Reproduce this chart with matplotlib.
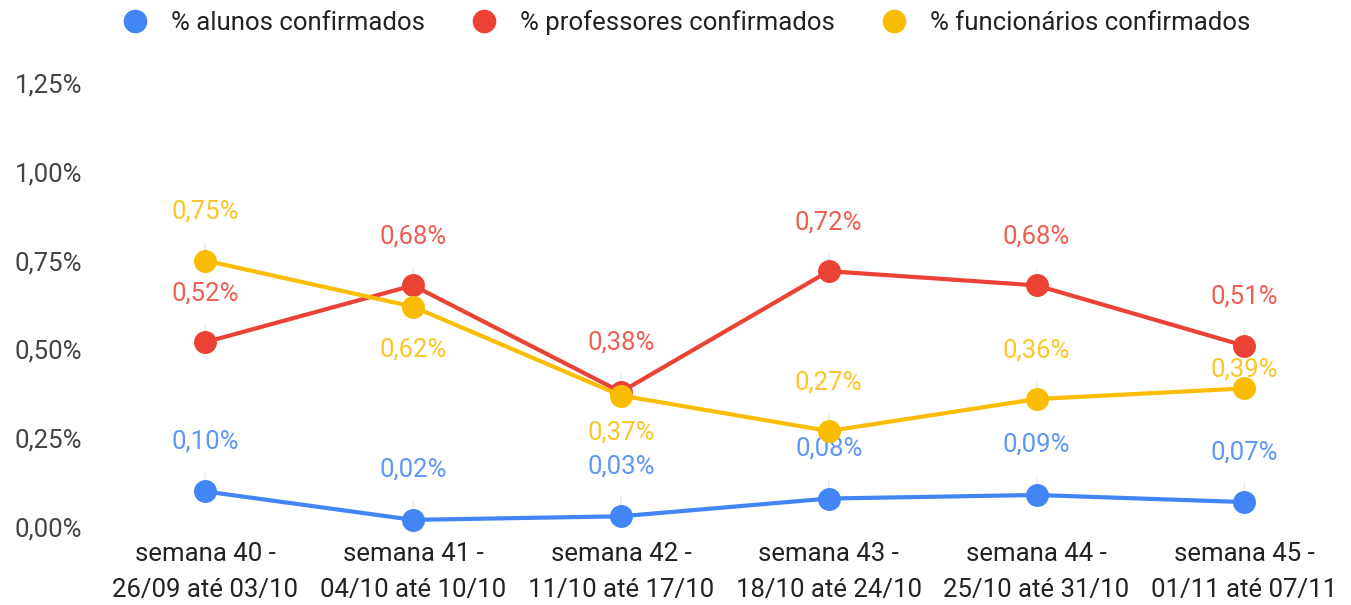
import matplotlib.pyplot as plt
from matplotlib.lines import Line2D

plt.rcParams['font.family'] = ['Roboto', 'DejaVu Sans']

# semanas e percentuais de casos confirmados
semanas = ['semana 40 -\n26/09 até 03/10', 'semana 41 -\n04/10 até 10/10',
           'semana 42 -\n11/10 até 17/10', 'semana 43 -\n18/10 até 24/10',
           'semana 44 -\n25/10 até 31/10', 'semana 45 -\n01/11 até 07/11']
alunos = [0.10, 0.02, 0.03, 0.08, 0.09, 0.07]
professores = [0.52, 0.68, 0.38, 0.72, 0.68, 0.51]
funcionarios = [0.75, 0.62, 0.37, 0.27, 0.36, 0.39]
nomes = ['% alunos confirmados', '% professores confirmados', '% funcionários confirmados']
y_ticks = [0, 0.25, 0.5, 0.75, 1.0, 1.25]

cores = ['#4285F4', '#EA4335', '#FBBC04']
# deslocamento vertical dos rótulos (pixels)
offsets = [[50, 50, 50, 50, 50, 50],
           [49, 49, 49, 49, 49, 49],
           [49, -43, -37, 49, 49, 19]]

fs = 18.5


def fmt(v):
    return ('%.2f%%' % v).replace('.', ',')


fig = plt.figure(figsize=(13.51, 6.05), dpi=100)
ax = fig.add_axes([0.075, 0.129, 0.923, 0.734])
x = list(range(len(semanas)))

for serie, cor, offs in zip([alunos, professores, funcionarios], cores, offsets):
    ax.plot(x, serie, color=cor, lw=3, marker='o', ms=15.5, clip_on=False, zorder=3)
    for xi, v, d in zip(x, serie, offs):
        ax.annotate(fmt(v), xy=(xi, v), xytext=(0, d), textcoords='offset pixels',
                    ha='center', va='center', fontsize=fs, color=cor, alpha=0.85,
                    arrowprops=dict(arrowstyle='-', color='#e8e8e8', lw=1,
                                    shrinkA=12, shrinkB=0), zorder=2)

ax.set_xlim(-0.5, len(semanas) - 0.5)
ax.set_ylim(0, 1.25)
ax.set_yticks(y_ticks)
ax.set_yticklabels([fmt(t) for t in y_ticks], fontsize=fs, color='#444444')
ax.set_xticks(x)
ax.set_xticklabels(semanas, fontsize=fs, color='#222222', linespacing=1.6)
ax.tick_params(length=0)
ax.tick_params(axis='y', pad=14)
ax.tick_params(axis='x', pad=11)
for s in ax.spines.values():
    s.set_visible(False)

handles = [Line2D([], [], color=c, marker='o', ls='none', ms=16) for c in cores]
fig.legend(handles, nomes, loc='upper center', bbox_to_anchor=(0.503, 1.022), ncol=3,
           frameon=False, fontsize=fs, handletextpad=0.4, columnspacing=1.3,
           labelcolor='#222222')

plt.savefig('out.png', dpi=100)
